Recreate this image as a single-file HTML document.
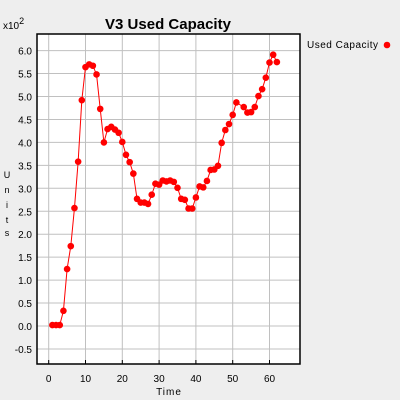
<!DOCTYPE html>
<html><head><meta charset="utf-8"><style>
body{margin:0;background:#eeeeee;}
svg{display:block;font-family:"Liberation Sans",sans-serif;}
</style></head><body>
<svg id="chart" width="400" height="400">
<rect width="400" height="400" fill="#eeeeee"/>
<text x="168" y="29" font-size="15" font-weight="bold" text-anchor="middle">V3 Used Capacity</text>
<text x="3" y="29" font-size="10">x10<tspan dy="-5" font-size="9">2</tspan></text>
<rect x="37" y="34" width="263" height="330" fill="#fff"/>
<g id="grid"></g>
<g id="series"></g>
<rect x="37" y="34" width="263" height="330" fill="none" stroke="#000" stroke-width="1.5"/>
<g font-size="9" text-anchor="middle">
<text x="7" y="178">U</text><text x="7" y="193">n</text><text x="7" y="208">i</text><text x="7" y="223">t</text><text x="7" y="236">s</text></g>
<text x="169" y="395" font-size="10" text-anchor="middle" letter-spacing="1">Time</text>
<text x="307" y="48" font-size="10" letter-spacing="0.5">Used Capacity</text>
<circle cx="387" cy="45" r="3.3" fill="#ff0000"/>
</svg>
<script>
const xTicks=[0,10,20,30,40,50,60];
const yTicks=[-0.5,0.0,0.5,1.0,1.5,2.0,2.5,3.0,3.5,4.0,4.5,5.0,5.5,6.0];
const times=[1,2,3,4,5,6,7,8,9,10,11,12,13,14,15,16,17,18,19,20,21,22,23,24,25,26,27,28,29,30,31,32,33,34,35,36,37,38,39,40,41,42,43,44,45,46,47,48,49,50,51,53,54,55,56,57,58,59,60,61,62];
const values=[0.02,0.02,0.02,0.33,1.24,1.74,2.57,3.58,4.92,5.64,5.70,5.67,5.48,4.73,4.00,4.29,4.34,4.28,4.21,4.01,3.73,3.57,3.32,2.77,2.69,2.69,2.66,2.86,3.10,3.08,3.17,3.15,3.17,3.14,3.01,2.77,2.75,2.56,2.56,2.80,3.04,3.02,3.16,3.40,3.41,3.49,3.99,4.27,4.40,4.60,4.87,4.77,4.65,4.66,4.77,5.01,5.16,5.41,5.74,5.91,5.75];
const NS="http://www.w3.org/2000/svg";
const L=37,R=300,T=34,B=364;
const xs=t=>48.7+t*3.68;
const ys=v=>326-v*45.9;
const grid=document.getElementById('grid'),ser=document.getElementById('series'),svg=document.getElementById('chart');
function mk(tag,a,p){const e=document.createElementNS(NS,tag);for(const k in a)e.setAttribute(k,a[k]);(p||svg).appendChild(e);return e;}
xTicks.forEach(t=>{
  const g=mk('line',{x1:xs(t),x2:xs(t),y1:T,y2:B,stroke:'#c0c0c0'},grid);
  
  
  const tk=mk('line',{x1:xs(t),x2:xs(t),y1:B,y2:B-4,stroke:'#000'},grid);
  
  
  const tx=mk('text',{x:xs(t),y:382,'font-size':10,'text-anchor':'middle'});
  tx.textContent=String(t);
  
  
});
yTicks.forEach(v=>{
  const g=mk('line',{x1:L,x2:R,y1:ys(v),y2:ys(v),stroke:'#c0c0c0'},grid);
  
  
  const tx=mk('text',{x:32,y:ys(v)+4,'font-size':10,'text-anchor':'end'});
  tx.textContent=v.toFixed(1);
  
  
});
const pl=mk('polyline',{points:times.map((t,i)=>xs(t)+','+ys(values[i])).join(' '),fill:'none',stroke:'#ff0000','stroke-width':1},ser);


times.forEach((t,i)=>{
  const c=mk('circle',{cx:xs(t),cy:ys(values[i]),r:3.3,fill:'#ff0000'},ser);
  
  
});
</script>
</body></html>
